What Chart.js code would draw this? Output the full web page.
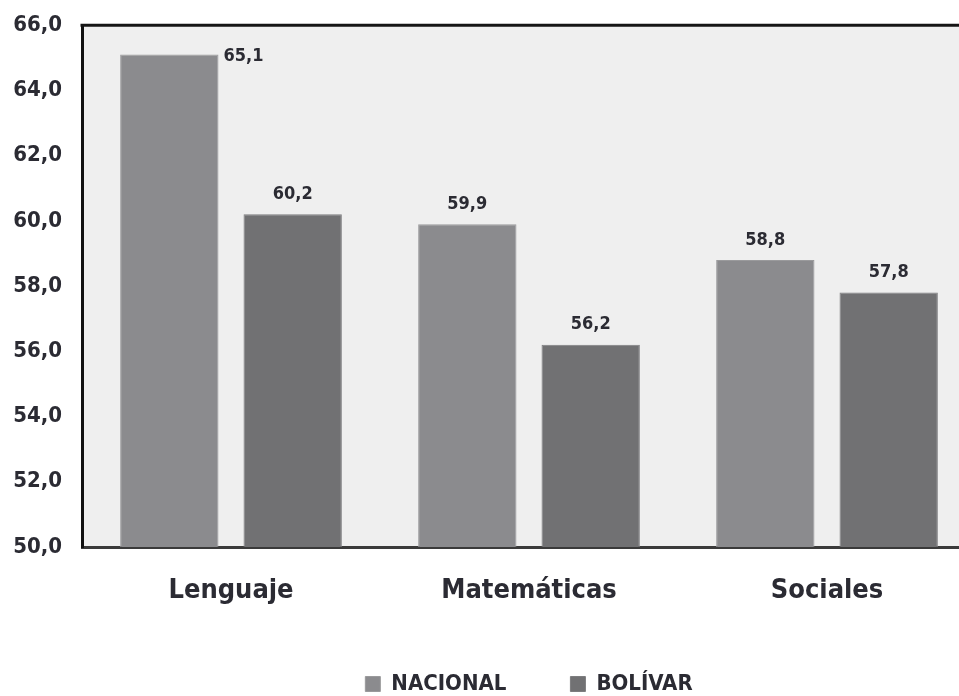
<!DOCTYPE html>
<html>
<head>
<meta charset="utf-8">
<script src="https://cdn.jsdelivr.net/npm/chart.js@4/dist/chart.umd.min.js"></script>
<style>
  html, body { margin: 0; padding: 0; background: #fff; overflow: hidden; }
  #wrap { width: 959px; height: 696px; overflow: hidden; }
</style>
</head>
<body>
<div id="wrap"><canvas id="chart" width="976" height="705"></canvas></div>
<script>
const categories = ["Lenguaje", "Matemáticas", "Sociales"];
const nacional = [65.1, 59.9, 58.8];
const bolivar  = [60.2, 56.2, 57.8];
const yMin = 50, yMax = 66, yStep = 2;

const txt = "#2b2b33";
const fam = "'DejaVu Sans Condensed', 'DejaVu Sans'";
const fmt = v => Number(v).toFixed(1).replace(".", ",");

// light gray plot background + top frame line
const frame = {
  id: "frame",
  beforeDraw(c) {
    const a = c.chartArea, ctx = c.ctx;
    ctx.save();
    ctx.fillStyle = "#efefef";
    ctx.fillRect(a.left, a.top, a.right - a.left, a.bottom - a.top);
    ctx.restore();
  },
  afterDraw(c) {
    const a = c.chartArea, ctx = c.ctx;
    ctx.save();
    ctx.strokeStyle = "#151515";
    ctx.lineWidth = 3;
    ctx.beginPath();
    ctx.moveTo(a.left - 1.5, a.top);
    ctx.lineTo(a.right, a.top);
    ctx.stroke();
    ctx.restore();
  }
};

// value labels above the bars (the tallest one goes to the right)
const valueLabels = {
  id: "valueLabels",
  afterDatasetsDraw(c) {
    const ctx = c.ctx, a = c.chartArea;
    ctx.save();
    ctx.font = "bold 18px " + fam;
    ctx.fillStyle = txt;
    c.data.datasets.forEach((ds, i) => {
      c.getDatasetMeta(i).data.forEach((bar, j) => {
        const s = fmt(ds.data[j]);
        if (bar.y - 30 < a.top) {
          ctx.textAlign = "left"; ctx.textBaseline = "middle";
          ctx.fillText(s, bar.x + bar.width / 2 + 5, bar.y + 2);
        } else {
          ctx.textAlign = "center"; ctx.textBaseline = "bottom";
          ctx.fillText(s, bar.x, bar.y - 11);
        }
      });
    });
    ctx.restore();
  }
};

new Chart(document.getElementById("chart"), {
  type: "bar",
  data: {
    labels: categories,
    datasets: [
      { label: "NACIONAL", data: nacional, backgroundColor: "#8b8b8e", borderColor: "#9a9a9c", borderWidth: 1 },
      { label: "BOLÍVAR", data: bolivar, backgroundColor: "#717173", borderColor: "#7d7d7f", borderWidth: 1 }
    ]
  },
  options: {
    responsive: false,
    animation: false,
    layout: { padding: { top: 0, bottom: 0, left: 0, right: 0 } },
    datasets: { bar: { categoryPercentage: 0.828, barPercentage: 0.797 } },
    plugins: {
      legend: {
        position: "bottom",
        fullSize: false,
        labels: {
          boxWidth: 15, boxHeight: 15, padding: 64,
          color: txt,
          font: { family: fam, size: 22, weight: "bold" }
        }
      },
      tooltip: { enabled: false }
    },
    scales: {
      x: {
        grid: { display: false },
        border: { display: true, color: "#3a3a3a", width: 3 },
        ticks: { color: txt, padding: 20, font: { family: fam, size: 27, weight: "bold" } },
        afterFit(s) { s.height = 62; }
      },
      y: {
        min: yMin, max: yMax,
        grid: { display: false },
        border: { display: true, color: "#111", width: 3 },
        ticks: {
          stepSize: yStep, padding: 12, color: txt,
          font: { family: fam, size: 22, weight: "bold" },
          callback: v => fmt(v)
        },
        afterFit(s) { s.width = 82; }
      }
    }
  },
  plugins: [frame, valueLabels]
});
</script>
</body>
</html>
